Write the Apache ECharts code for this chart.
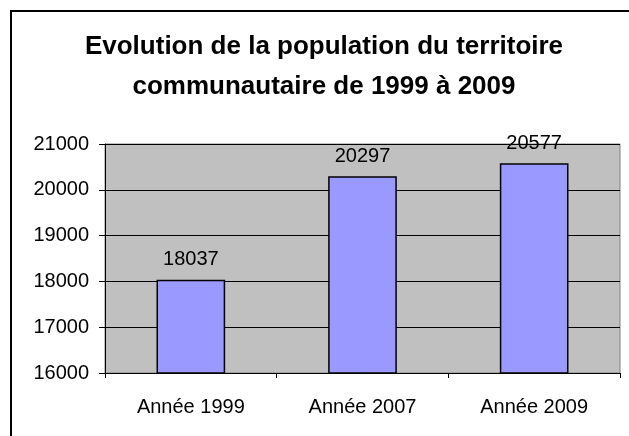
<!DOCTYPE html>
<html>

<head>
    <meta charset="utf-8">
    <script src="https://cdn.jsdelivr.net/npm/echarts@6/dist/echarts.min.js"></script>
    <title>Population</title>
</head>

<body style="margin:0;background:#fff;">
    <div id="main" style="width:629px;height:436px;"></div>
    <script type="text/javascript">
        var titleLines = ['Evolution de la population du territoire', 'communautaire de 1999 à 2009'];
        var categories = ['Année 1999', 'Année 2007', 'Année 2009'];
        var population = [18037, 20297, 20577];
        var yMin = 16000, yMax = 21000, yStep = 1000;

        var myChart = echarts.init(document.getElementById('main'));
        var font = 'Liberation Sans, Arial, sans-serif';

        // one title entry per line so both stay centred on the same x
        var titles = titleLines.map(function (line, i) {
            return {
                text: line,
                left: 324,
                top: 34 + i * 40,
                textAlign: 'center',
                padding: 0,
                textStyle: {
                    fontFamily: font,
                    fontSize: 26,
                    fontWeight: 'bold',
                    color: '#000'
                }
            };
        });

        var option = {
            animation: false,
            backgroundColor: '#fff',
            title: titles,
            graphic: [{
                type: 'rect',
                shape: { x: 11, y: 11, width: 700, height: 500 },
                style: { fill: 'none', stroke: '#000', lineWidth: 2 },
                z: -1
            }],
            grid: {
                left: 105,
                right: 9,
                top: 144,
                bottom: 63,
                show: true,
                backgroundColor: '#C0C0C0',
                borderColor: '#808080',
                borderWidth: 1
            },
            xAxis: {
                type: 'category',
                data: categories,
                axisLine: { lineStyle: { color: '#000', width: 1 } },
                axisTick: { show: true, length: 5, lineStyle: { color: '#000' } },
                axisLabel: {
                    fontFamily: font,
                    fontSize: 20,
                    color: '#000',
                    margin: 24
                }
            },
            yAxis: {
                type: 'value',
                min: yMin,
                max: yMax,
                interval: yStep,
                axisLine: { show: true, lineStyle: { color: '#000', width: 1 } },
                axisTick: { show: true, length: 6, lineStyle: { color: '#000' } },
                splitLine: { show: true, lineStyle: { color: '#000', width: 1 } },
                axisLabel: {
                    fontFamily: font,
                    fontSize: 20,
                    color: '#000',
                    margin: 16,
                    formatter: function (v) { return String(v); }
                }
            },
            series: [{
                type: 'bar',
                data: population,
                barWidth: '40%',
                itemStyle: {
                    color: '#9999FF',
                    borderColor: '#000',
                    borderWidth: 1.5
                },
                label: {
                    show: true,
                    position: 'top',
                    distance: 10,
                    fontFamily: font,
                    fontSize: 20,
                    color: '#000'
                }
            }]
        };

        myChart.setOption(option);
    </script>
</body>

</html>
